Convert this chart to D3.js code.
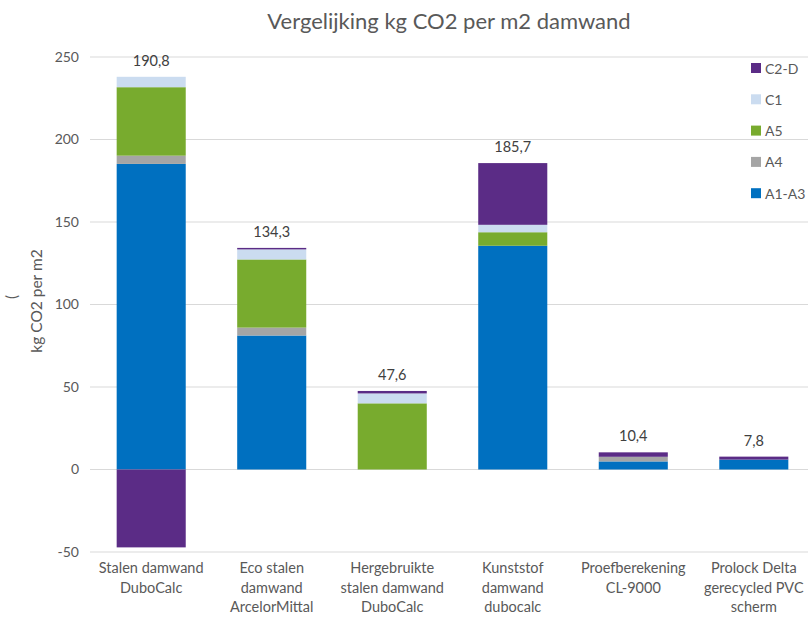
<!DOCTYPE html>
<html lang="nl">
<head>
  <meta charset="UTF-8">
  <script src="https://d3js.org/d3.v7.min.js"></script>
  <title>Vergelijking kg CO2 per m2 damwand</title>
  <style>
    body { margin: 0; background: #fff; }
    svg { font-family: Lato, "Open Sans", sans-serif; }
  </style>
</head>
<body>
  <div id="chart"></div>
  <script>
    // categories (line-broken as in the original)
    const categories = [
      ['Stalen damwand', 'DuboCalc'],
      ['Eco stalen', 'damwand', 'ArcelorMittal'],
      ['Hergebruikte', 'stalen damwand', 'DuboCalc'],
      ['Kunststof', 'damwand', 'dubocalc'],
      ['Proefberekening', 'CL-9000'],
      ['Prolock Delta', 'gerecycled PVC', 'scherm']
    ];
    const seriesNames = ['A1-A3', 'A4', 'A5', 'C1', 'C2-D'];
    const a1a3 = [185.2, 81.2, 0, 135.6, 4.9, 6.0];
    const a4   = [5.0, 4.8, 0, 0, 2.8, 0];
    const a5   = [41.5, 41.3, 40.1, 8.2, 0, 0];
    const c1   = [6.3, 6.1, 6.0, 4.5, 0, 0];
    const c2d  = [-47.2, 0.9, 1.5, 37.4, 2.7, 1.8];
    const totals = ['190,8', '134,3', '47,6', '185,7', '10,4', '7,8'];
    const yTicks = [-50, 0, 50, 100, 150, 200, 250];
    const colors = ['#0070c0', '#a5a5a5', '#78ab2e', '#cbdcf0', '#5b2c86'];

    const width = 808, height = 617;
    const svg = d3.select('#chart').append('svg').attr('width', width).attr('height', height);

    const x = d3.scaleBand().domain(d3.range(categories.length)).range([91, 814]).paddingInner(0.427).paddingOuter(0.213);
    const y = d3.scaleLinear().domain([-50, 250]).range([552, 57]);

    // gridlines
    svg.append('g').selectAll('line').data(yTicks).join('line')
      .attr('x1', 90).attr('x2', width)
      .attr('y1', d => y(d)).attr('y2', d => y(d))
      .attr('stroke', '#d9d9d9').attr('stroke-width', 1);

    // y axis labels
    const yAxis = svg.append('g').attr('transform', 'translate(79,0)')
      .call(d3.axisLeft(y).tickValues(yTicks).tickSize(0).tickPadding(0).tickFormat(d => String(d)));
    yAxis.select('.domain').remove();
    yAxis.selectAll('text').attr('fill', '#595959').attr('font-size', 14)
      .attr('font-family', 'Lato, sans-serif');

    // stacked data with negative values going below zero
    const rows = categories.map((c, i) => ({
      i, 'A1-A3': a1a3[i], 'A4': a4[i], 'A5': a5[i], 'C1': c1[i], 'C2-D': c2d[i]
    }));
    const stack = d3.stack().keys(seriesNames).offset(d3.stackOffsetDiverging);
    const layers = stack(rows);

    svg.append('g').selectAll('g').data(layers).join('g')
      .attr('fill', (d, k) => colors[k])
      .selectAll('rect').data(d => d).join('rect')
      .attr('x', d => x(d.data.i))
      .attr('width', x.bandwidth())
      .attr('y', d => y(Math.max(d[0], d[1])))
      .attr('height', d => Math.abs(y(d[0]) - y(d[1])));

    // total labels above the positive stack
    const tops = rows.map(r => d3.sum(seriesNames, k => Math.max(0, r[k])));
    svg.append('g').selectAll('text').data(totals).join('text')
      .attr('x', (d, i) => x(i) + x.bandwidth() / 2)
      .attr('y', (d, i) => y(tops[i]) - 11)
      .attr('text-anchor', 'middle')
      .attr('fill', '#404040').attr('font-size', 14.5)
      .text(d => d);

    // category labels
    const cat = svg.append('g').selectAll('text').data(categories).join('text')
      .attr('x', (d, i) => x(i) + x.bandwidth() / 2)
      .attr('y', 573)
      .attr('text-anchor', 'middle')
      .attr('fill', '#595959').attr('font-size', 14.5);
    cat.selectAll('tspan').data(d => d).join('tspan')
      .attr('x', function () { return this.parentNode.getAttribute('x'); })
      .attr('dy', (d, j) => j === 0 ? 0 : 19.5)
      .text(d => d);

    // title
    svg.append('text').attr('x', 449).attr('y', 29)
      .attr('text-anchor', 'middle').attr('fill', '#595959').attr('font-size', 22)
      .text('Vergelijking kg CO2 per m2 damwand');

    // y axis title
    svg.append('text').attr('transform', 'translate(42,301) rotate(-90)')
      .attr('text-anchor', 'middle').attr('fill', '#595959').attr('font-size', 15.5)
      .text('kg CO2 per m2');
    svg.append('text').attr('transform', 'translate(17,297) rotate(-90)')
      .attr('text-anchor', 'middle').attr('fill', '#595959').attr('font-size', 15)
      .text('(');

    // legend, top to bottom in reverse series order
    const legendOrder = seriesNames.map((n, k) => ({ n, k })).reverse();
    const leg = svg.append('g').selectAll('g').data(legendOrder).join('g')
      .attr('transform', (d, j) => `translate(751,${63 + j * 31.3})`);
    leg.append('rect').attr('width', 10).attr('height', 10).attr('fill', d => colors[d.k]);
    leg.append('text').attr('x', 14).attr('y', 10.5)
      .attr('fill', '#595959').attr('font-size', 14).text(d => d.n);
  </script>
</body>
</html>
